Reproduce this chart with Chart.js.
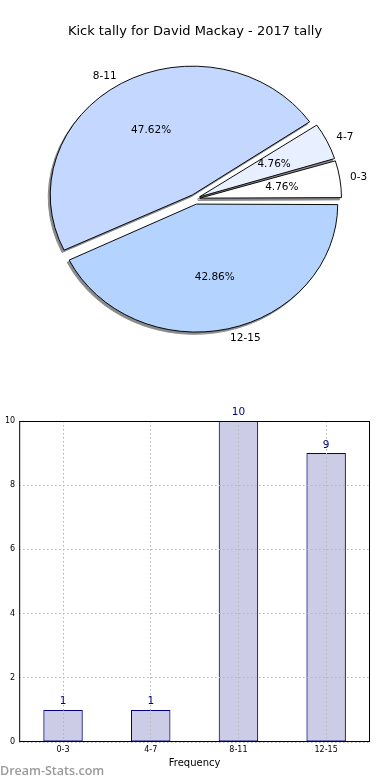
<!DOCTYPE html>
<html>
<head>
<meta charset="utf-8">
<script src="https://cdn.jsdelivr.net/npm/chart.js@4/dist/chart.umd.min.js"></script>
<style>
  html, body { margin: 0; padding: 0; background: #fff; overflow: hidden; }
  body { width: 390px; height: 780px; position: relative; }
  #pieWrap { position: absolute; left: 0; top: 0; width: 390px; height: 360px; }
  #barWrap { position: absolute; left: -16px; top: 400px; width: 406px; height: 380px; }
  #mark { position: absolute; left: 0; top: 762px; font: 600 12.5px "Open Sans", sans-serif; color: #9a9a9a; }
</style>
</head>
<body>
<div id="pieWrap"><canvas id="pie"></canvas></div>
<div id="barWrap"><canvas id="bar"></canvas></div>
<div id="mark">Dream-Stats.com</div>
<script>
// kick tally data
const categories = ['0-3', '4-7', '8-11', '12-15'];
const counts = [1, 1, 10, 9];
const yTicks = [0, 2, 4, 6, 8, 10];

const pieColors = ['#ffffff', '#e8f0ff', '#c4d8ff', '#b4d4ff'];
const pieOffsets = [20, 20, 20, 24];

const total = counts.reduce((a, b) => a + b, 0);

// matplotlib goes counter-clockwise from 3 o'clock, chart.js clockwise -> reverse
const pieLabels = categories.slice().reverse();
const pieData = counts.slice().reverse();

const FONT = '"DejaVu Sans", sans-serif';
const SQUASH = 0.905; // the original pie is a bit flattened

// flatten the pie, draw shadows under it, then the texts
const pieDecor = {
    id: 'pieDecor',
    beforeDatasetsDraw(chart) {
        const ctx = chart.ctx;
        const arcs = chart.getDatasetMeta(0).data;
        const cy = arcs[0].y;
        ctx.save();
        ctx.translate(0, cy);
        ctx.scale(1, SQUASH);
        ctx.translate(0, -cy);
        arcs.forEach(arc => {
            const o = arc.options;
            arc.options = Object.assign({}, o, { backgroundColor: '#8a8a8a', borderColor: '#8a8a8a' });
            ctx.save();
            ctx.translate(-2, 2.5);
            arc.draw(ctx);
            ctx.restore();
            arc.options = o;
        });
    },
    afterDatasetsDraw(chart) {
        const ctx = chart.ctx;
        ctx.restore();
        const meta = chart.getDatasetMeta(0);
        ctx.save();
        ctx.font = '10.5px ' + FONT;
        ctx.fillStyle = '#000';
        ctx.textBaseline = 'middle';
        meta.data.forEach((arc, i) => {
            const mid = (arc.startAngle + arc.endAngle) / 2;
            const off = (arc.options.offset || 0) / 4;
            const cx = arc.x + Math.cos(mid) * off;
            const cy = arc.y + Math.sin(mid) * off * SQUASH;
            const r = arc.outerRadius;
            const pct = (pieData[i] / total * 100).toFixed(2) + '%';
            ctx.textAlign = 'center';
            ctx.fillText(pct, cx + Math.cos(mid) * r * 0.6, cy + Math.sin(mid) * r * 0.6 * SQUASH);
            ctx.textAlign = Math.cos(mid) > 0 ? 'left' : 'right';
            ctx.fillText(pieLabels[i], cx + Math.cos(mid) * r * 1.1, cy + Math.sin(mid) * r * 1.1 * SQUASH);
        });
        ctx.restore();
    }
};

new Chart(document.getElementById('pie'), {
    type: 'pie',
    data: {
        labels: pieLabels,
        datasets: [{
            data: pieData,
            backgroundColor: pieColors.slice().reverse(),
            offset: pieOffsets.slice().reverse(),
            hoverOffset: 0,
            borderColor: '#000',
            borderWidth: 1
        }]
    },
    options: {
        responsive: true,
        maintainAspectRatio: false,
        animation: false,
        rotation: 90,
        radius: 138,
        events: [],
        layout: { padding: { bottom: 12 } },
        plugins: {
            legend: { display: false },
            tooltip: { enabled: false },
            title: {
                display: true,
                text: 'Kick tally for David Mackay - 2017 tally',
                color: '#000',
                font: { family: FONT, size: 13, weight: 'normal' },
                padding: { top: 24, bottom: 10 }
            }
        }
    },
    plugins: [pieDecor]
});

// frame + value labels for the bar chart
const barExtras = {
    id: 'barExtras',
    afterDraw(chart) {
        const ctx = chart.ctx;
        const a = chart.chartArea;
        ctx.save();
        ctx.strokeStyle = '#000';
        ctx.lineWidth = 1;
        ctx.strokeRect(a.left + 0.5, a.top + 0.5, a.right - a.left - 1, a.bottom - a.top - 1);
        ctx.font = '10.5px ' + FONT;
        ctx.fillStyle = '#000080';
        ctx.textAlign = 'center';
        ctx.textBaseline = 'bottom';
        chart.getDatasetMeta(0).data.forEach((bar, i) => {
            ctx.fillText(String(counts[i]), bar.x, bar.y - 3);
        });
        ctx.restore();
    }
};

// dotted grid drawn above the bars, the frame comes from barExtras
const gridOpts = { drawTicks: false, color: '#b4b4b4', lineWidth: 1, z: 1 };

new Chart(document.getElementById('bar'), {
    type: 'bar',
    data: {
        labels: categories,
        datasets: [{
            data: counts,
            backgroundColor: 'rgba(0, 0, 128, 0.2)',
            borderColor: '#000080',
            borderWidth: 1,
            borderSkipped: false,
            categoryPercentage: 1,
            barPercentage: 0.45
        }]
    },
    options: {
        responsive: true,
        maintainAspectRatio: false,
        animation: false,
        events: [],
        layout: { padding: { left: 7, right: 20, top: 21, bottom: 12 } },
        plugins: {
            legend: { display: false },
            tooltip: { enabled: false }
        },
        scales: {
            x: {
                grid: Object.assign({ offset: false }, gridOpts),
                border: { display: false, dash: [1.5, 2.5] },
                ticks: { color: '#000', font: { family: FONT, size: 8, lineHeight: 1 }, padding: 4 },
                title: {
                    display: true,
                    text: 'Frequency',
                    color: '#000',
                    font: { family: FONT, size: 10, lineHeight: 1 },
                    padding: { top: 0, bottom: 0 }
                }
            },
            y: {
                min: 0,
                max: 10,
                afterBuildTicks: axis => { axis.ticks = yTicks.map(v => ({ value: v })); },
                grid: Object.assign({}, gridOpts),
                border: { display: false, dash: [1.5, 2.5] },
                ticks: { color: '#000', font: { family: FONT, size: 8 }, padding: 4 },
                title: {
                    display: true,
                    text: 'Occurrences',
                    color: '#000',
                    font: { family: FONT, size: 10 },
                    padding: { top: 0, bottom: -2 }
                }
            }
        }
    },
    plugins: [barExtras]
});
</script>
</body>
</html>
